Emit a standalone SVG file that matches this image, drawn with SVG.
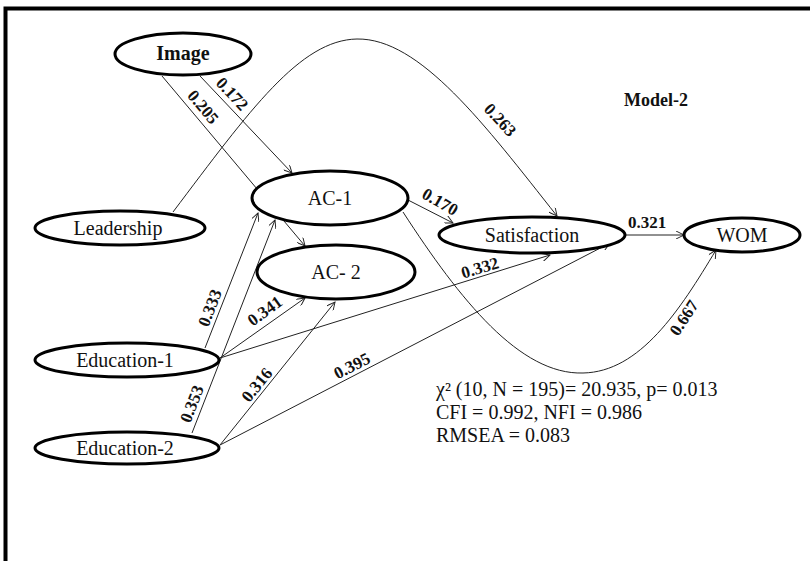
<svg xmlns="http://www.w3.org/2000/svg" width="810" height="561" viewBox="0 0 810 561">
  <style>
    .node ellipse { fill: #fff; stroke: #000; stroke-width: 3; }
    .node text { font-family: "Liberation Serif", "Times New Roman", serif; font-size: 20px; fill: #111; text-anchor: middle; dominant-baseline: central; }
    .edge { fill: none; stroke: #222; stroke-width: 1; marker-end: url(#arrow); }
    .coef { font-family: "Liberation Serif", "Times New Roman", serif; font-size: 17px; font-weight: bold; fill: #111; text-anchor: middle; dominant-baseline: central; }
    .stats { font-family: "Liberation Serif", "Times New Roman", serif; font-size: 20px; fill: #111; }
  </style>
  <defs>
    <marker id="arrow" viewBox="0 0 10 10" refX="10" refY="5" markerWidth="10" markerHeight="8" markerUnits="userSpaceOnUse" orient="auto">
      <path d="M0,0 L10,5 L0,10" fill="none" stroke="#222" stroke-width="1.2"/>
    </marker>
  </defs>

  <rect width="810" height="561" fill="#fff"/>

  <!-- frame: top and left rules -->
  <path d="M5.5,561 V8.5 H810" fill="none" stroke="#000" stroke-width="4"/>

  <!-- connectors -->
  <g id="connectors">
    <line class="edge" x1="200" y1="76" x2="292" y2="173"/>
    <line class="edge" x1="162" y1="76" x2="305" y2="246"/>
    <path class="edge" d="M173,212 C250,110 300,40 357,39 C420,38 485,125 557,216"/>
    <line class="edge" x1="408" y1="200" x2="453" y2="223"/>
    <path class="edge" d="M403,212 C460,300 520,375 583,373 C640,372 680,310 716,250"/>
    <line class="edge" x1="625" y1="235" x2="684" y2="235"/>
    <line class="edge" x1="205" y1="348" x2="258" y2="213"/>
    <line class="edge" x1="220" y1="358" x2="305" y2="298"/>
    <line class="edge" x1="220" y1="358" x2="550" y2="255"/>
    <line class="edge" x1="192" y1="433" x2="275" y2="220"/>
    <line class="edge" x1="220" y1="445" x2="335" y2="302"/>
    <line class="edge" x1="220" y1="445" x2="610" y2="243"/>

    <text class="coef" transform="translate(232,94) rotate(47)">0.172</text>
    <text class="coef" transform="translate(203,107) rotate(50)">0.205</text>
    <text class="coef" transform="translate(500,120) rotate(47)">0.263</text>
    <text class="coef" transform="translate(440,202) rotate(30)">0.170</text>
    <text class="coef" transform="translate(647,222)">0.321</text>
    <text class="coef" transform="translate(684,318) rotate(-57)">0.667</text>
    <text class="coef" transform="translate(210,308) rotate(-69)">0.333</text>
    <text class="coef" transform="translate(265,311) rotate(-36)">0.341</text>
    <text class="coef" transform="translate(480,268) rotate(-17)">0.332</text>
    <text class="coef" transform="translate(192,404) rotate(-69)">0.353</text>
    <text class="coef" transform="translate(257,385) rotate(-51)">0.316</text>
    <text class="coef" transform="translate(352,366) rotate(-27)">0.395</text>
  </g>

  <!-- variables -->
  <g id="image" class="node">
    <ellipse cx="183" cy="54" rx="68" ry="21"/>
    <text x="183" y="53" font-weight="bold">Image</text>
  </g>
  <g id="leadership" class="node">
    <ellipse cx="120" cy="228" rx="85" ry="17"/>
    <text x="118" y="228">Leadership</text>
  </g>
  <g id="ac1" class="node">
    <ellipse cx="330" cy="198" rx="78" ry="27"/>
    <text x="330" y="198">AC-1</text>
  </g>
  <g id="ac2" class="node">
    <ellipse cx="336" cy="272" rx="79" ry="27"/>
    <text x="336" y="272">AC- 2</text>
  </g>
  <g id="satisfaction" class="node">
    <ellipse cx="532" cy="235" rx="93" ry="18"/>
    <text x="532" y="235">Satisfaction</text>
  </g>
  <g id="wom" class="node">
    <ellipse cx="742" cy="235" rx="58" ry="17"/>
    <text x="742" y="235">WOM</text>
  </g>
  <g id="education1" class="node">
    <ellipse cx="127" cy="360" rx="92" ry="17"/>
    <text x="125" y="360">Education-1</text>
  </g>
  <g id="education2" class="node">
    <ellipse cx="127" cy="448" rx="92" ry="16"/>
    <text x="125" y="448">Education-2</text>
  </g>

  <!-- model title and fit indices -->
  <text x="656" y="106" font-family="Liberation Serif, Times New Roman, serif" font-size="18" font-weight="bold" text-anchor="middle" fill="#111">Model-2</text>
  <text class="stats" x="436" y="396">χ² (10, N = 195)= 20.935, p= 0.013</text>
  <text class="stats" x="436" y="419">CFI = 0.992, NFI = 0.986</text>
  <text class="stats" x="436" y="442">RMSEA = 0.083</text>
</svg>
